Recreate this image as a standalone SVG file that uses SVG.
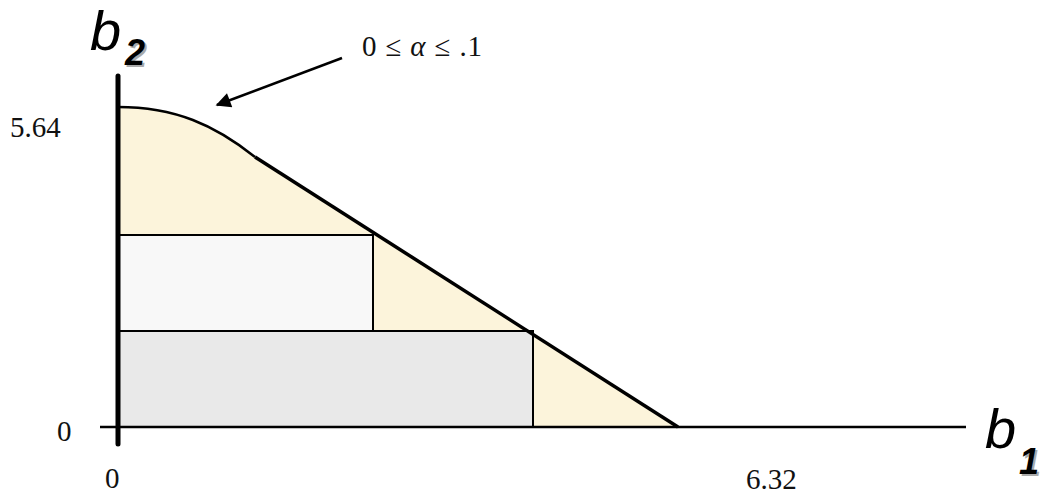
<svg xmlns="http://www.w3.org/2000/svg" width="1040" height="495" viewBox="0 0 1040 495">
<style>
.num{font-family:"Liberation Serif","Times New Roman",serif;font-size:29px;fill:#111}
.var{font-family:"Liberation Sans",Arial,sans-serif;font-style:italic;font-size:56px;fill:#000}
.sub{font-family:"Liberation Sans",Arial,sans-serif;font-style:italic;font-weight:bold;font-size:36px}
</style>
<defs>
<marker id="ah" viewBox="0 0 10 10" refX="9" refY="5" markerWidth="6.5" markerHeight="6" orient="auto" markerUnits="strokeWidth">
<path d="M0,0 L10,5 L0,10 z" fill="#000"/>
</marker>
</defs>
<rect width="1040" height="495" fill="#fff"/>
<g id="region">
<path d="M118,107 C175,107 215,125 255,157 L678,427 L118,427 Z" fill="#fcf4db"/>
</g>
<g id="rect-upper"><rect x="118" y="235" width="255" height="96" fill="#f8f8f8" stroke="#000" stroke-width="2"/></g>
<g id="rect-lower"><rect x="118" y="331" width="415" height="96" fill="#e9e9e9" stroke="#000" stroke-width="2"/></g>
<g id="connectors" fill="none" stroke="#000">
<path d="M118,107 C175,107 215,125 255,157" stroke-width="2.5"/>
<path d="M255,157 L678,427" stroke-width="3.5"/>
<line x1="100" y1="427" x2="966" y2="427" stroke-width="2.5"/>
<line x1="118" y1="76" x2="118" y2="444" stroke-width="5" stroke-linecap="round"/>
<line x1="342" y1="58" x2="217" y2="105" stroke-width="2.5" marker-end="url(#ah)"/>
</g>
<g id="labels">
<text class="num" x="10" y="137">5.64</text>
<text class="num" x="57" y="441">0</text>
<text class="num" x="105" y="488">0</text>
<text class="num" x="746" y="489">6.32</text>
<text class="num" x="362" y="56" font-size="30" textLength="120" lengthAdjust="spacing">0 ≤ <tspan font-style="italic">α</tspan> ≤ .1</text>
</g>
<g id="axis-b2">
<text class="var" x="90" y="50">b</text>
<text class="sub" x="127" y="67" fill="#aaa">2</text>
<text class="sub" x="125" y="65" fill="#000">2</text>
</g>
<g id="axis-b1">
<text class="var" x="985" y="448">b</text>
<text class="sub" x="1021" y="476" fill="#aaa">1</text>
<text class="sub" x="1019" y="474" fill="#000">1</text>
</g>
</svg>
